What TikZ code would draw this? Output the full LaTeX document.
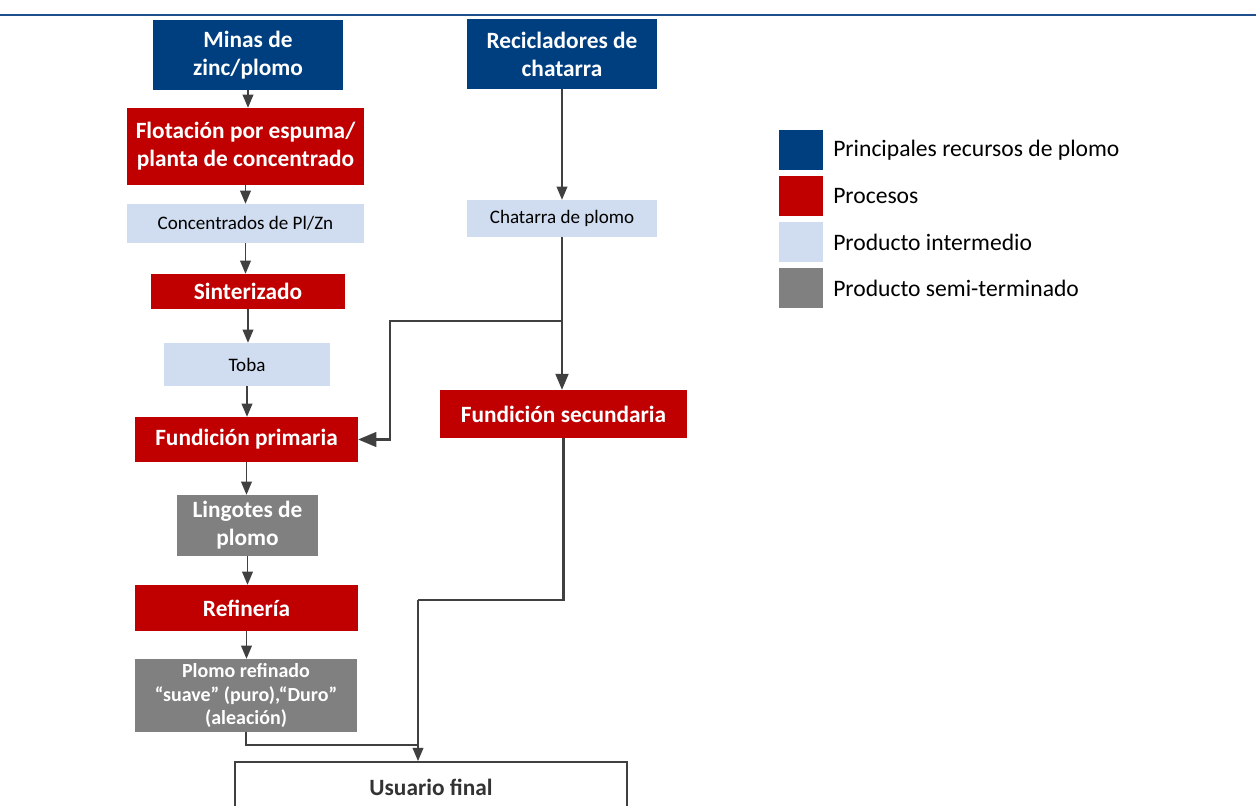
\documentclass[tikz,border=0pt]{standalone}
\usepackage{fontspec}
\setmainfont{Carlito}
\usepackage{tikz}
\usepackage{xcolor}
\usetikzlibrary{arrows,backgrounds}

\definecolor{srcblue}{RGB}{0,63,127}
\definecolor{procred}{RGB}{192,0,0}
\definecolor{interblue}{RGB}{208,220,239}
\definecolor{semigray}{RGB}{128,128,128}
\definecolor{linkgray}{RGB}{64,64,64}
\definecolor{ruleblue}{RGB}{31,78,140}

\tikzset{
  box/.style={inner sep=0pt, align=center},
  srcbox/.style={box, fill=srcblue, text=white, font=\bfseries\fontsize{17.5}{21}\selectfont},
  procbox/.style={box, fill=procred, text=white, font=\bfseries\fontsize{17.5}{21}\selectfont},
  interbox/.style={box, fill=interblue, text=black, font=\fontsize{14.3}{17}\selectfont},
  semibox/.style={box, fill=semigray, text=white, font=\bfseries\fontsize{17.5}{21}\selectfont},
  finalbox/.style={box, draw=linkgray, line width=1.5pt, fill=white, text=black!80, font=\bfseries\fontsize{17.5}{21}\selectfont},
  link/.style={draw=linkgray, line width=1.3pt, -triangle 45},
  plain link/.style={draw=linkgray, line width=1.6pt},
  keybox/.style={minimum width=33pt, minimum height=30pt},
  keytext/.style={anchor=west, inner sep=0pt, font=\fontsize{17.7}{20}\selectfont}
}

\begin{document}
\begin{tikzpicture}[x=0.75pt, y=-0.75pt]

\useasboundingbox (0,0) rectangle (1256,806);

\draw [ruleblue, line width=1.8pt] (0,15) -- (1256,15);

% left column
\node [srcbox, minimum width=142.5pt, minimum height=52.5pt] (minas) at (248,55) {Minas de\\zinc/plomo};
\node [procbox, minimum width=177.75pt, minimum height=57.75pt] (flot) at (245.5,146.5) {Flotación por espuma/\\planta de concentrado};
\node [interbox, minimum width=177.75pt, minimum height=29.25pt] (conc) at (245.5,223.5) {Concentrados de Pl/Zn};
\node [procbox, minimum width=145.5pt, minimum height=26.25pt] (sint) at (248,291.5) {Sinterizado};
\node [interbox, minimum width=124.5pt, minimum height=32.25pt] (toba) at (247,364.5) {Toba};
\node [procbox, minimum width=167.25pt, minimum height=33.75pt] (fprim) at (246.5,439.5) {Fundición primaria};
\node [semibox, minimum width=105.75pt, minimum height=45.75pt] (ling) at (247.5,525.5) {Lingotes de\\plomo};
\node [procbox, minimum width=167.25pt, minimum height=34.5pt] (refi) at (246.5,608) {Refinería};
\node [semibox, minimum width=166.5pt, minimum height=54.75pt, font=\bfseries\fontsize{15}{17.3}\selectfont] (plomo) at (246,695.5) {Plomo refinado\\“suave” (puro),“Duro”\\(aleación)};

% right column
\node [srcbox, minimum width=142.5pt, minimum height=52.5pt] (recic) at (562,54) {Recicladores de\\chatarra};
\node [interbox, minimum width=142.5pt, minimum height=27.75pt] (chat) at (562,218.5) {Chatarra de plomo};
\node [procbox, minimum width=185.25pt, minimum height=36pt] (fsec) at (563.5,414) {Fundición secundaria};

\node [finalbox, minimum width=294pt, minimum height=37.5pt] (usuario) at (431,787) {Usuario final};

% legend
\node [keybox, fill=srcblue] (k1) at (801,150) {};
\node [keybox, fill=procred] (k2) at (801,196) {};
\node [keybox, fill=interblue] (k3) at (801,242) {};
\node [keybox, fill=semigray] (k4) at (801,288) {};
\node [keytext] (t1) at (833,150) {Principales recursos de plomo};
\node [keytext] (t2) at (833,196) {Procesos};
\node [keytext] (t3) at (833,242) {Producto intermedio};
\node [keytext] (t4) at (833,288) {Producto semi-terminado};

% links
\draw [link] (minas.south) -- (minas.south |- flot.north);
\draw [link] (flot.south) -- (flot.south |- conc.north);
\draw [link] (conc.south) -- (conc.south |- sint.north);
\draw [link] (sint.south) -- (sint.south |- toba.north);
\draw [link] (toba.south) -- (toba.south |- fprim.north);
\draw [link] (fprim.south) -- (fprim.south |- ling.north);
\draw [link] (ling.south) -- (ling.south |- refi.north);
\draw [link] (refi.south) -- (refi.south |- plomo.north);

\draw [link] (recic.south) -- (recic.south |- chat.north);
\draw [link, line width=1.8pt] (chat.south) -- (chat.south |- fsec.north);

\coordinate (split) at (562,321);
\coordinate (bend) at (390,321);
\draw [plain link, line width=2.2pt, -triangle 45] (split) -- (bend) |- (fprim.east);

\coordinate (jog) at (418,600);
\coordinate (merge) at (418,745);
\draw [plain link] (fsec.south) |- (jog);
\draw [link] (jog) -- (jog |- usuario.north);
\draw [plain link] (plomo.south) |- (merge);

\end{tikzpicture}
\end{document}
